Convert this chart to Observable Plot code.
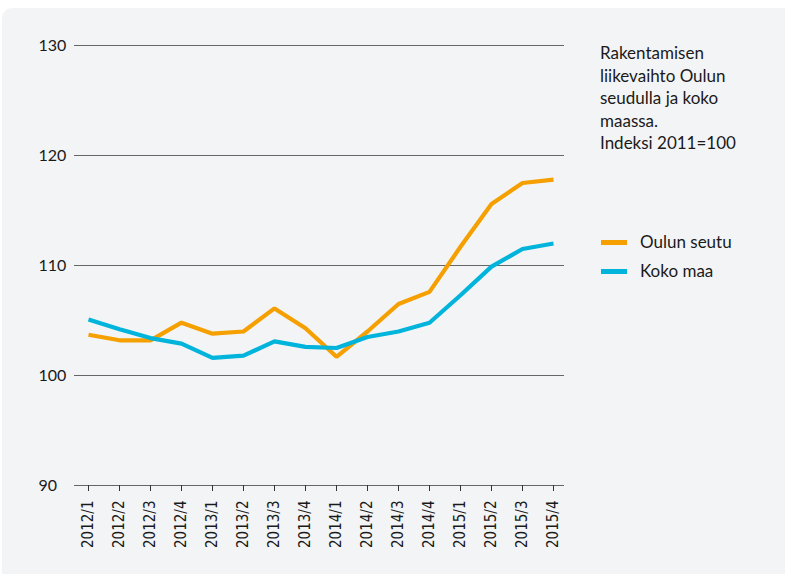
<!DOCTYPE html>
<html>
<head>
<meta charset="utf-8">
<script src="https://cdn.jsdelivr.net/npm/d3@7"></script>
<script src="https://cdn.jsdelivr.net/npm/@observablehq/plot@0.6"></script>
<style>
  html, body { margin: 0; padding: 0; background: #ffffff; }
  #wrap { position: relative; width: 785px; height: 574px; overflow: hidden; }
  #bg { position: absolute; left: 2px; top: 8px; width: 800px; height: 600px; background: #f3f4f6; border-radius: 10px; }
  #chart { position: absolute; left: 0; top: 0; }
  #side { position: absolute; left: 600px; top: 42px; font-family: Lato, "Open Sans", sans-serif; color: #1a1a1a; }
  #title { font-size: 17px; line-height: 22.5px; }
  .leg { position: relative; height: 29px; font-size: 17px; line-height: 20px; }
  .sw { position: absolute; left: 1px; top: 8px; width: 26px; height: 5px; }
  .lt { position: absolute; left: 40px; top: 0; }
</style>
</head>
<body>
<div id="wrap">
  <div id="bg"></div>
  <div id="chart"></div>
  <div id="side">
    <div id="title">Rakentamisen<br>liikevaihto Oulun<br>seudulla ja koko<br>maassa.<br>Indeksi 2011=100</div>
    <div id="legend" style="margin-top:77px"></div>
  </div>
</div>
<script>
const quarters = ["2012/1","2012/2","2012/3","2012/4","2013/1","2013/2","2013/3","2013/4",
                  "2014/1","2014/2","2014/3","2014/4","2015/1","2015/2","2015/3","2015/4"];
const oulunSeutu = [103.7,103.2,103.2,104.8,103.8,104.0,106.1,104.3,101.7,104.0,106.5,107.6,111.7,115.6,117.5,117.8];
const kokoMaa    = [105.1,104.2,103.4,102.9,101.6,101.8,103.1,102.6,102.5,103.5,104.0,104.8,107.3,109.9,111.5,112.0];
const yTicks = [90,100,110,120,130];
const seriesNames = ["Oulun seutu","Koko maa"];
const seriesColors = ["#f5a000","#00b4dc"];

const rows = [];
quarters.forEach((q, i) => {
  rows.push({q, v: oulunSeutu[i], s: seriesNames[0]});
  rows.push({q, v: kokoMaa[i], s: seriesNames[1]});
});

const plot = Plot.plot({
  width: 590,
  height: 574,
  marginLeft: 74,
  marginRight: 26,
  marginTop: 45,
  marginBottom: 89,
  style: {background: "transparent", color: "#1a1a1a", fontFamily: "Lato, sans-serif"},
  x: {type: "point", domain: quarters, range: [83.5, 558], padding: 0},
  y: {domain: [90, 130]},
  color: {domain: seriesNames, range: seriesColors},
  marks: [
    Plot.ruleY(yTicks, {stroke: "#666666", strokeWidth: 1.2}),
    Plot.axisY({ticks: yTicks, tickSize: 0, tickPadding: 0, textAnchor: "start", dx: -36,
                label: null, fontSize: 16, fontFamily: "Lato, sans-serif"}),
    Plot.axisX({tickRotate: -90, tickSize: 6, tickPadding: 9, label: null, stroke: "#333",
                fontSize: 15, fontFamily: "DejaVu Sans Condensed, DejaVu Sans, sans-serif"}),
    Plot.line(rows, {x: "q", y: "v", z: "s", stroke: "s", strokeWidth: 4.2,
                     strokeLinejoin: "miter", strokeLinecap: "butt"})
  ]
});
document.getElementById("chart").appendChild(plot);

const legend = document.getElementById("legend");
seriesNames.forEach((n, i) => {
  const d = document.createElement("div");
  d.className = "leg";
  d.innerHTML = `<span class="sw" style="background:${seriesColors[i]}"></span><span class="lt">${n}</span>`;
  legend.appendChild(d);
});
</script>
</body>
</html>
